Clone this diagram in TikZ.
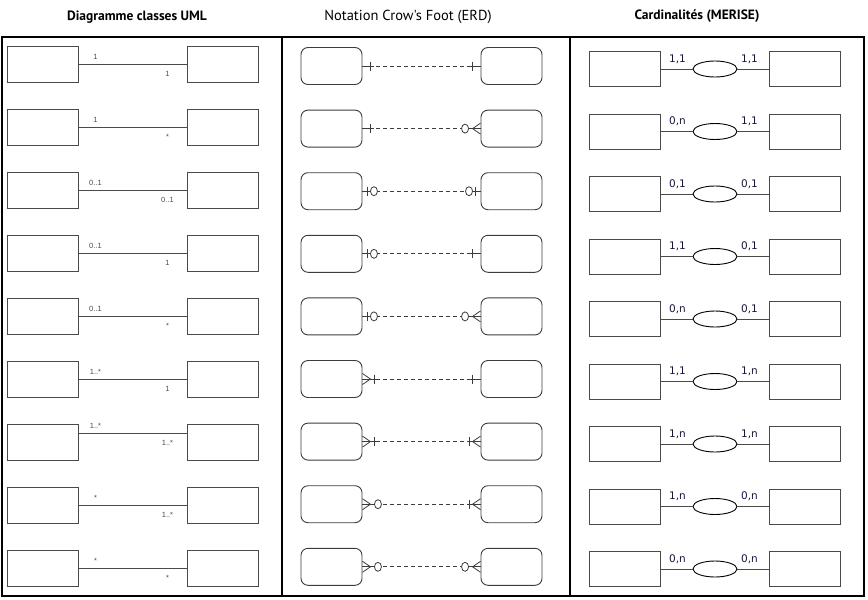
\documentclass[tikz,border=0pt]{standalone}
\usepackage{fontspec}
\setmainfont{Liberation Sans}
\newfontfamily\headfont{PT Sans}
\newfontfamily\cardfont{DejaVu Sans}
\usetikzlibrary{shapes.geometric}
\definecolor{boxgray}{HTML}{4A4A4A}
\definecolor{erdgray}{HTML}{3C3C3C}
\definecolor{cardnavy}{HTML}{16163A}

\tikzset{
  umlbox/.style={draw=boxgray, line width=1pt, minimum width=71pt, minimum height=36pt, inner sep=0pt},
  erdbox/.style={draw=erdgray, line width=0.9pt, rounded corners=7pt, minimum width=61pt, minimum height=37pt, inner sep=0pt},
  merbox/.style={draw=boxgray, line width=1pt, minimum width=71pt, minimum height=35pt, inner sep=0pt},
  assoc/.style={ellipse, draw=black, line width=0.9pt, minimum width=44pt, minimum height=16pt, inner sep=0pt},
  mult/.style={font=\fontsize{7.5}{9}\selectfont, text=boxgray, inner sep=0pt},
  card/.style={font=\cardfont\fontsize{10.5}{12}\selectfont, text=cardnavy, inner sep=0pt},
  headbold/.style={font=\headfont\bfseries\fontsize{13.5}{15}\selectfont},
  headplain/.style={font=\headfont\fontsize{14.5}{16}\selectfont},
  erdone/.pic={
    \draw (0,0) -- (12,0);
    \draw (8,-4.5) -- (8,4.5);
  },
  erdzone/.pic={
    \draw (0,0) -- (8,0);
    \draw (5,-4.5) -- (5,4.5);
    \draw[fill=white] (11.5,0) ellipse [x radius=3.5pt, y radius=4.5pt];
  },
  erdzmany/.pic={
    \draw (0,-5.5) -- (8,0) -- (0,5.5);
    \draw (0,0) -- (12,0);
    \draw[fill=white] (15.5,0) ellipse [x radius=3.5pt, y radius=4.5pt];
  },
  erdomany/.pic={
    \draw (0,-5.5) -- (8,0) -- (0,5.5);
    \draw (0,0) -- (14,0);
    \draw (11.5,-4.5) -- (11.5,4.5);
  }
}

\begin{document}
\begin{tikzpicture}[x=1pt, y=-1pt]
  \useasboundingbox (0,0) rectangle (868,600);

  \node[headbold] (h-uml) at (137,17) {Diagramme classes UML};
  \node[headplain] (h-erd) at (408,17) {Notation Crow's Foot (ERD)};
  \node[headbold] (h-mer) at (697,16) {Cardinalités (MERISE)};

  \draw[line width=2pt] (2,37) rectangle (864,596);
  \draw[line width=2pt] (282,37) -- (282,596);
  \draw[line width=2pt] (570,37) -- (570,596);

  \foreach \i/\a/\b/\dy in {1/1/1/0, 2/1/*/0, 3/0..1/0..1/0, 4/0..1/1/0, 5/0..1/*/0,
                            6/1..*/1/0, 7/1..*/1..*/9, 8/*/1..*/0, 9/*/*/0}{
    \pgfmathsetmacro{\y}{64+63*(\i-1)}
    \node[umlbox] (uml-l-\i) at (42.5,\y) {};
    \node[umlbox] (uml-r-\i) at (222.5,\y) {};
    \draw[boxgray, line width=0.9pt] ([yshift=\dy pt]uml-l-\i.east) -- ([yshift=\dy pt]uml-r-\i.west);
    \node[mult] (uml-a-\i) at ([xshift=17pt, yshift=\dy pt+7.5pt]uml-l-\i.east) {\a};
    \node[mult] (uml-b-\i) at ([xshift=-19pt, yshift=\dy pt-10pt]uml-r-\i.west) {\b};
  }

  \foreach \i/\lt/\rt in {1/erdone/erdone, 2/erdone/erdzmany, 3/erdzone/erdzone,
                          4/erdzone/erdone, 5/erdzone/erdzmany, 6/erdomany/erdone,
                          7/erdomany/erdomany, 8/erdzmany/erdomany, 9/erdzmany/erdzmany}{
    \pgfmathsetmacro{\y}{66+62.6*(\i-1)}
    \node[erdbox] (erd-l-\i) at (331.5,\y) {};
    \node[erdbox] (erd-r-\i) at (511.5,\y) {};
    \draw[erdgray, line width=0.8pt, dash pattern=on 4pt off 3pt] (erd-l-\i.east) -- (erd-r-\i.west);
    \pic[erdgray, line width=0.8pt] at (erd-l-\i.east) {\lt};
    \pic[erdgray, line width=0.8pt, xscale=-1] at (erd-r-\i.west) {\rt};
  }

  \foreach \i/\a/\b in {1/{1,1}/{1,1}, 2/{0,n}/{1,1}, 3/{0,1}/{0,1}, 4/{1,1}/{0,1}, 5/{0,n}/{0,1},
                        6/{1,1}/{1,n}, 7/{1,n}/{1,n}, 8/{1,n}/{0,n}, 9/{0,n}/{0,n}}{
    \pgfmathsetmacro{\y}{69+62.5*(\i-1)}
    \node[merbox] (mer-l-\i) at (624.5,\y) {};
    \node[merbox] (mer-r-\i) at (804.5,\y) {};
    \node[assoc] (mer-e-\i) at (715,\y) {};
    \draw[boxgray, line width=1pt] (mer-l-\i) -- (mer-e-\i) -- (mer-r-\i);
    \node[card] (mer-a-\i) at ([xshift=17pt, yshift=10pt]mer-l-\i.east) {\a};
    \node[card] (mer-b-\i) at ([xshift=-19pt, yshift=10pt]mer-r-\i.west) {\b};
  }
\end{tikzpicture}
\end{document}
